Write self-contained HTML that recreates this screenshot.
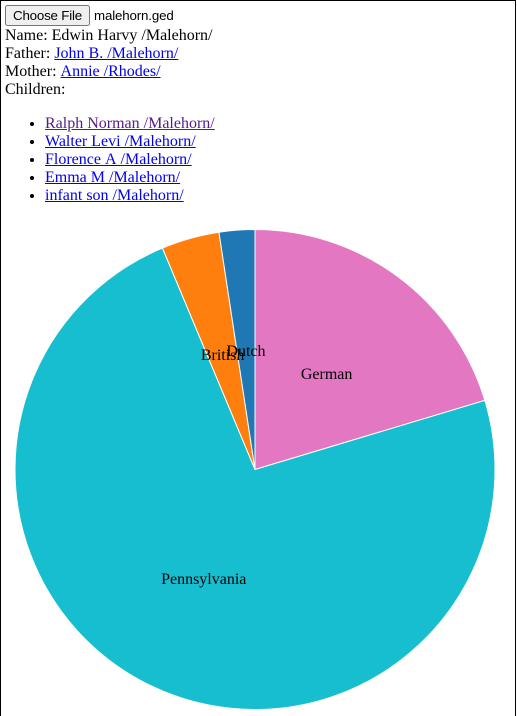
<!DOCTYPE html>
<html lang="en">
<head>
<meta charset="utf-8">
<title>malehorn.ged</title>
<style>
  html { margin: 0; padding: 0; height: 716px; overflow: hidden; background: #fff; }
  body {
    margin: 0; padding: 4px; box-sizing: border-box; width: 516px; height: 716px;
    border: 1px solid #000; border-bottom: 0; position: relative; color: #000; overflow: hidden;
    font: 16px/18px "Liberation Serif", serif; font-kerning: none;
  }
  .file-row { height: 22px; display: flex; align-items: flex-start; }
  .file-row button { font: 13.333px "Liberation Sans", sans-serif; letter-spacing: -0.2px; margin: 0 4px 0 0; height: 21px; width: 85px; padding: 1px 0; white-space: nowrap; }
  .file-row span { font: 13.333px/21px "Liberation Sans", sans-serif; letter-spacing: -0.16px; }
  a { color: #0000ee; text-decoration: underline; }
  a.visited { color: #551a8b; }
  a.kerned { font-kerning: normal; }
  ul { margin: 16px 0; padding-left: 40px; }
  svg { position: absolute; left: -1px; top: -1px; display: block; }
  svg text { font: 16px "Liberation Serif", serif; fill: #000; text-anchor: middle; font-kerning: none; }
</style>
</head>
<body>
  <div class="file-row">
    <button type="button">Choose File</button>
    <span>malehorn.ged</span>
  </div>
  <div>Name: Edwin Harvy /Malehorn/</div>
  <div>Father: <a href="#">John B. /Malehorn/</a></div>
  <div>Mother: <a href="#">Annie /Rhodes/</a></div>
  <div>Children:</div>
  <ul>
    <li><a class="visited" href="#">Ralph Norman /Malehorn/</a></li>
    <li><a class="kerned" href="#">Walter Levi /Malehorn/</a></li>
    <li><a href="#">Florence A /Malehorn/</a></li>
    <li><a href="#">Emma M /Malehorn/</a></li>
    <li><a href="#">infant son /Malehorn/</a></li>
  </ul>
  <svg id="pie" width="517" height="716" viewBox="0 0 517 716"></svg>

<script>
const categories = ["German", "Pennsylvania", "British", "Dutch"];
const seriesValues = [20.35, 73.35, 3.9, 2.4];
const sliceColors = ["#e377c2", "#17becf", "#ff7f0e", "#1f77b4"];

const NS = "http://www.w3.org/2000/svg";
const svg = document.getElementById("pie");
const centerX = 255, centerY = 469.5, radius = 240;
const total = seriesValues.reduce(function (a, b) { return a + b; }, 0);

function angleOf(value) { return value / total * Math.PI * 2; }
function pointAt(angle, r) {
  return [centerX + r * Math.sin(angle), centerY - r * Math.cos(angle)];
}

let cursor = 0;
const arcs = seriesValues.map(function (v) {
  const start = cursor;
  cursor += angleOf(v);
  return { start: start, end: cursor };
});

arcs.forEach(function (a, i) {
  const p0 = pointAt(a.start, radius);
  const p1 = pointAt(a.end, radius);
  const large = a.end - a.start > Math.PI ? 1 : 0;
  const path = document.createElementNS(NS, "path");
  path.setAttribute("d", "M" + centerX + "," + centerY + "L" + p0[0] + "," + p0[1] +
    "A" + radius + "," + radius + " 0 " + large + " 1 " + p1[0] + "," + p1[1] + "Z");
  path.setAttribute("fill", sliceColors[i]);
  path.setAttribute("stroke", "#fff");
  path.setAttribute("stroke-width", "1");
  
  
  svg.appendChild(path);
});

arcs.forEach(function (a, i) {
  const c = pointAt((a.start + a.end) / 2, radius / 2);
  const label = document.createElementNS(NS, "text");
  label.setAttribute("x", c[0]);
  label.setAttribute("y", c[1] + 6);
  label.textContent = categories[i];
  
  
  svg.appendChild(label);
});
</script>
</body>
</html>
